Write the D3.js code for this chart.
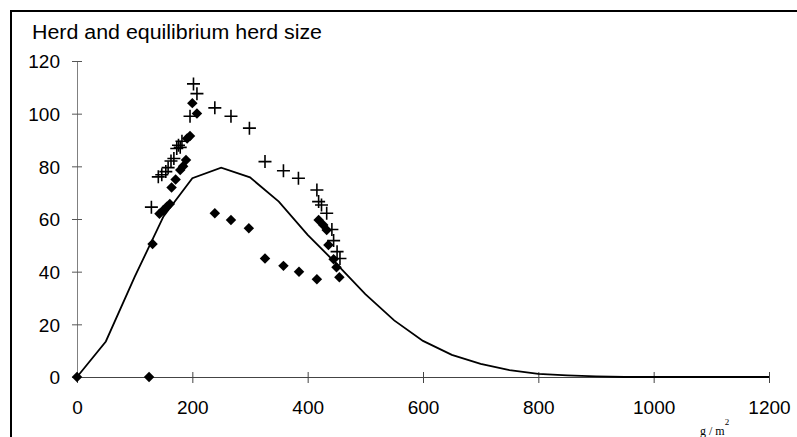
<!DOCTYPE html>
<html>
<head>
<meta charset="utf-8">
<script src="https://cdn.jsdelivr.net/npm/d3@7"></script>
<style>
  body { margin: 0; background: #fff; }
  svg { display: block; }
</style>
</head>
<body>
<svg id="chart"></svg>
<script>
const width = 797,
  height = 437;

// equilibrium herd size (line)
const eqX = [0, 50, 100, 150, 200, 250, 300, 350, 400, 450, 500, 550, 600, 650, 700, 750, 800, 850, 900, 950, 1000, 1050, 1100, 1150, 1200];
const eqY = [0, 13.5, 38, 61, 75.5, 79.5, 75.8, 66.6, 54, 43, 31.5, 21.5, 13.7, 8.4, 5, 2.6, 1.2, 0.6, 0.2, 0, 0, 0, 0, 0, 0];

// herd size (plus markers)
const herdX = [129, 141, 147, 154, 158, 163, 168, 173, 176, 179, 182, 196, 202, 208, 239, 267, 299, 326, 358, 384, 416, 419, 424, 433, 442, 445, 451, 456];
const herdY = [64.5, 76, 76.8, 78, 79.5, 82, 83, 86.8, 88, 87.2, 89.5, 99, 111.3, 107.6, 102.2, 99, 94.5, 81.8, 78.3, 75.5, 71, 66.6, 65.3, 62.2, 56, 51.8, 47.6, 45];

// equilibrium herd observations (diamonds)
const obsX = [0, 125, 131, 143, 150, 156, 161, 164, 171, 179, 184, 189, 191, 196, 200, 208, 239, 267, 298, 326, 358, 385, 416, 419, 427, 433, 436, 445, 450, 455];
const obsY = [0, 0, 50.5, 62, 63.4, 64.7, 65.7, 72, 75, 78.6, 80, 82.4, 90.6, 91.5, 104, 100.1, 62.2, 59.6, 56.5, 45, 42.2, 40, 37.1, 59.6, 57.7, 55.8, 50.1, 44.7, 41.7, 37.9];

const xTicks = [0, 200, 400, 600, 800, 1000, 1200];
const yTicks = [0, 20, 40, 60, 80, 100, 120];

const svg = d3.select("#chart").attr("width", width).attr("height", height);

// outer frame
svg.append("rect")
  .attr("x", 11).attr("y", 11)
  .attr("width", 800).attr("height", 440)
  .attr("fill", "none")
  .attr("stroke", "#000")
  .attr("stroke-width", 2);

const x = d3.scaleLinear().domain([0, 1200]).range([77, 769]);
const y = d3.scaleLinear().domain([0, 120]).range([377, 61]);

const font = "'Liberation Sans', Arial, sans-serif";

// y axis
const yAxis = svg.append("g")
  .attr("transform", `translate(${x(0)},0)`)
  .call(d3.axisLeft(y).tickValues(yTicks).tickSize(5).tickPadding(12).tickSizeOuter(0));
yAxis.select(".domain").attr("stroke", "#808080");
yAxis.selectAll(".tick line").attr("stroke", "#555").attr("x2", 5).attr("x1", -5);
yAxis.selectAll(".tick text")
  .attr("font-family", font).attr("font-size", 19).attr("fill", "#000")
  .attr("dy", "0.36em");

// x axis
const xAxis = svg.append("g")
  .attr("transform", `translate(0,${y(0)})`)
  .call(d3.axisBottom(x).tickValues(xTicks).tickFormat(d3.format("d")).tickSize(6).tickPadding(18).tickSizeOuter(0));
xAxis.select(".domain").attr("stroke", "#444");
xAxis.selectAll(".tick line").attr("stroke", "#444").attr("y1", -5).attr("y2", 6);
xAxis.selectAll(".tick text")
  .attr("font-family", font).attr("font-size", 19).attr("fill", "#000");

// equilibrium line
const line = d3.line().x(d => x(d[0])).y(d => y(d[1]));
svg.append("path")
  .datum(eqX.map((v, i) => [v, eqY[i]]))
  .attr("d", line)
  .attr("fill", "none")
  .attr("stroke", "#000")
  .attr("stroke-width", 1.8);

// diamonds
svg.append("g")
  .selectAll("path")
  .data(obsX.map((v, i) => [v, obsY[i]]))
  .enter()
  .append("path")
  .attr("d", d3.symbol().type(d3.symbolDiamond2).size(70))
  .attr("transform", d => `translate(${x(d[0])},${y(d[1])})`)
  .attr("fill", "#000");

// plus markers
svg.append("g")
  .selectAll("path")
  .data(herdX.map((v, i) => [v, herdY[i]]))
  .enter()
  .append("path")
  .attr("d", d => {
    const cx = x(d[0]), cy = y(d[1]), r = 6.5;
    return `M${cx - r},${cy}H${cx + r}M${cx},${cy - r}V${cy + r}`;
  })
  .attr("stroke", "#000")
  .attr("stroke-width", 1.6)
  .attr("fill", "none");

// title
svg.append("text")
  .attr("x", 32).attr("y", 39)
  .attr("font-family", font).attr("font-size", 20)
  .attr("textLength", 290).attr("lengthAdjust", "spacingAndGlyphs")
  .text("Herd and equilibrium herd size");

// unit label
const unit = svg.append("text")
  .attr("x", 700).attr("y", 435)
  .attr("font-family", "'Liberation Serif', 'Times New Roman', serif")
  .attr("font-size", 12);
unit.append("tspan").text("g / m");
unit.append("tspan").attr("dy", -10).attr("font-size", 9).text("2");
</script>
</body>
</html>
